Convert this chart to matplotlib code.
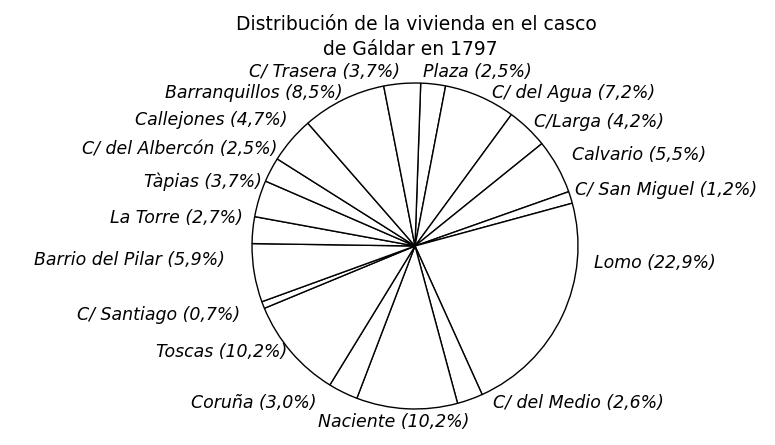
import matplotlib
matplotlib.use('Agg')
import matplotlib.pyplot as plt

# Distribución de la vivienda en el casco de Gáldar en 1797
calles = ['Plaza', 'C/ del Agua', 'C/Larga', 'Calvario', 'C/ San Miguel', 'Lomo',
          'C/ del Medio', 'Naciente', 'Coruña', 'Toscas', 'C/ Santiago',
          'Barrio del Pilar', 'La Torre', 'Tàpias', 'C/ del Albercón',
          'Callejones', 'Barranquillos', 'C/ Trasera']
porcentajes = [2.5, 7.2, 4.2, 5.5, 1.2, 22.9, 2.6, 10.2, 3.0, 10.2, 0.7,
               5.9, 2.7, 3.7, 2.5, 4.7, 8.5, 3.7]

# posición de cada rótulo (coordenadas del eje, radio = 1) y alineación
pos_rotulos = [(0.05, 1.067, 'left'), (0.47, 0.939, 'left'), (0.73, 0.761, 'left'),
               (0.963, 0.558, 'left'), (0.98, 0.344, 'left'), (1.10, -0.104, 'left'),
               (0.48, -0.963, 'left'), (-0.13, -1.08, 'center'), (-0.607, -0.963, 'right'),
               (-0.785, -0.650, 'right'), (-1.074, -0.423, 'right'),
               (-1.166, -0.086, 'right'), (-1.055, 0.172, 'right'), (-0.94, 0.393, 'right'),
               (-0.847, 0.595, 'right'), (-0.785, 0.773, 'right'), (-0.442, 0.939, 'right'),
               (-0.092, 1.067, 'right')]


def rotulo(nombre, pct):
    return f"{nombre} ({pct:.1f}%)".replace('.', ',')


fig = plt.figure(figsize=(7.75, 4.45), dpi=100)
ax = fig.add_axes([0.3252, 0.0809, 0.4206, 0.7326])

ax.pie(porcentajes, startangle=88, counterclock=False, radius=1,
       wedgeprops=dict(facecolor='white', edgecolor='black', linewidth=1.0))
ax.set_xlim(-1, 1)
ax.set_ylim(-1, 1)
ax.axis('off')

for nombre, pct, (x, y, ha) in zip(calles, porcentajes, pos_rotulos):
    ax.text(x, y, rotulo(nombre, pct), ha=ha, va='center', fontsize=12.5,
            style='italic', color='black')

fig.text(0.537, 0.945, 'Distribución de la vivienda en el casco', ha='center',
         va='center', fontsize=13.5)
fig.text(0.530, 0.888, 'de Gáldar en 1797', ha='center', va='center', fontsize=13.5)

fig.savefig('out.png', dpi=100, facecolor='white')
